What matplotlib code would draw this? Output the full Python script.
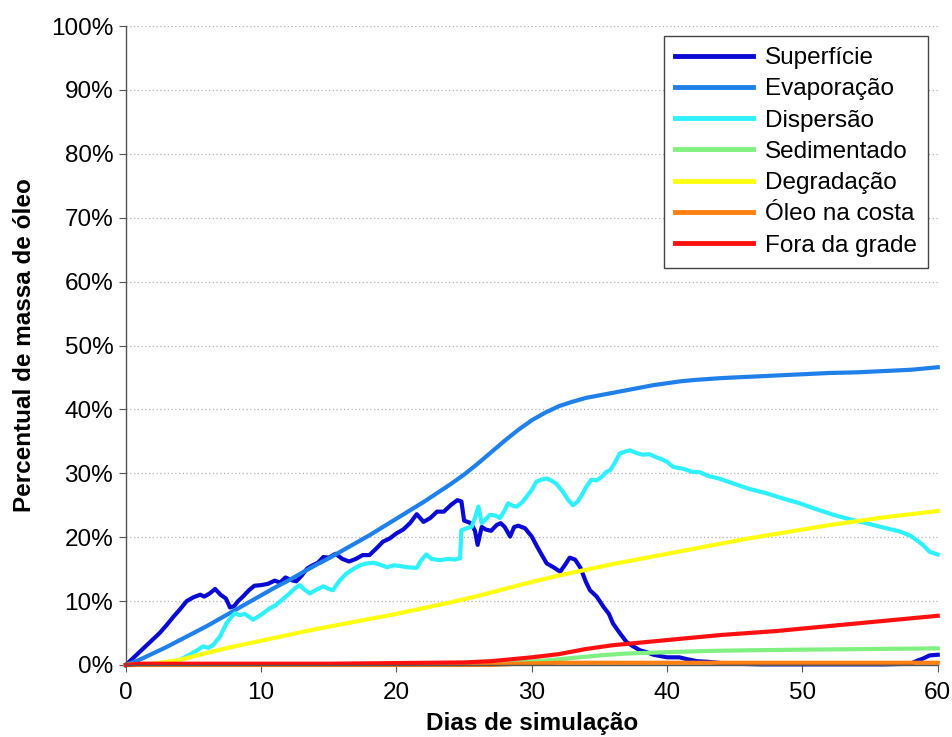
import matplotlib
matplotlib.use('Agg')
import matplotlib.pyplot as plt
import numpy as np

plt.rcParams['font.family'] = ['Liberation Sans', 'DejaVu Sans']

# series names and colours
labels = ['Superfície', 'Evaporação', 'Dispersão', 'Sedimentado',
          'Degradação', 'Óleo na costa', 'Fora da grade']
colors = ['#0a0ad2', '#1f80ea', '#2ef0ff', '#80f080',
          '#ffff10', '#ff8010', '#ff1010']

# Superfície (days, %)
sup_days = [0, 0.5, 1, 1.5, 2, 2.5, 3, 3.5, 4, 4.5, 5, 5.5, 5.8, 6.2, 6.6, 7.0, 7.4, 7.7,
            8.0, 8.3, 8.7, 9.1, 9.5, 10.0, 10.5, 11.0, 11.4, 11.8, 12.2, 12.6, 13.0, 13.4,
            13.8, 14.2, 14.6, 15.0, 15.5, 16.0, 16.5, 17.0, 17.5, 18.0, 18.5, 19.0, 19.5,
            20.0, 20.5, 21.0, 21.5, 22.0, 22.5, 23.0, 23.5, 24.0, 24.5, 24.8, 25.0, 25.5,
            25.8, 26.0, 26.3, 26.6, 27.0, 27.4, 27.7, 28.0, 28.4, 28.7, 29.0, 29.5, 30.0,
            30.4, 30.8, 31.1, 31.6, 32.1, 32.5, 32.8, 33.2, 33.6, 34.0, 34.3, 34.8, 35.3,
            35.7, 36.0, 36.5, 37.0, 37.5, 38.0, 38.5, 39.0, 39.5, 40.0, 40.9, 41.5, 42.2,
            43.0, 44.0, 45.0, 47, 50, 53, 56, 58, 58.4, 58.9, 59.4, 60.0]
sup_vals = [0, 1.0, 2.0, 3.0, 4.0, 5.0, 6.2, 7.5, 8.7, 10.0, 10.6, 11.0, 10.7, 11.2, 11.9,
            11.0, 10.4, 9.0, 9.2, 10.0, 10.8, 11.7, 12.4, 12.5, 12.7, 13.2, 12.9, 13.7,
            13.3, 13.1, 14.0, 15.1, 15.6, 16.0, 16.9, 16.8, 17.4, 16.6, 16.2, 16.6, 17.2,
            17.2, 18.2, 19.3, 19.8, 20.6, 21.2, 22.2, 23.6, 22.4, 23.0, 24.0, 24.0, 25.0,
            25.8, 25.6, 22.6, 22.2, 21.0, 18.8, 21.6, 21.2, 21.0, 21.9, 22.2, 21.6, 20.1,
            21.6, 21.8, 21.4, 20.1, 18.5, 17.0, 15.9, 15.3, 14.6, 15.8, 16.8, 16.5, 15.2,
            13.0, 11.7, 10.7, 9.1, 8.0, 6.5, 5.0, 3.6, 2.9, 2.3, 2.0, 1.6, 1.4, 1.2, 1.2,
            0.9, 0.6, 0.5, 0.3, 0.2, 0.1, 0.1, 0.1, 0.1, 0.2, 0.6, 1.0, 1.5, 1.6]

# Evaporação
evp_days = [0, 1, 2, 3, 4, 5, 6, 7, 8, 9, 10, 11, 12, 13, 14, 15, 16, 17, 18, 19, 20,
            21, 22, 23, 24, 25, 26, 27, 28, 29, 30, 31, 32, 33, 34, 35, 36, 37, 38, 39,
            40, 41, 42, 44, 46, 48, 50, 52, 54, 56, 58, 60]
evp_vals = [0, 0.8, 1.8, 2.8, 3.9, 5.0, 6.1, 7.3, 8.5, 9.7, 10.9, 12.1, 13.2, 14.4, 15.6,
            16.7, 17.9, 19.1, 20.3, 21.6, 22.9, 24.2, 25.5, 26.9, 28.3, 29.8, 31.5, 33.3,
            35.1, 36.8, 38.3, 39.5, 40.5, 41.2, 41.8, 42.2, 42.6, 43.0, 43.4, 43.8, 44.1,
            44.4, 44.6, 44.9, 45.1, 45.3, 45.5, 45.7, 45.8, 46.0, 46.2, 46.6]

# Dispersão
dsp_days = [0, 1, 2, 3, 4, 4.7, 5.2, 5.7, 6.1, 6.45, 6.7, 6.95, 7.2, 7.44, 7.8, 8.06, 8.4,
            8.8, 9.4, 9.8, 10.15, 10.6, 11.1, 11.6, 12.1, 12.5, 12.86, 13.2, 13.6, 14.1,
            14.6, 15.0, 15.3, 15.8, 16.3, 16.8, 17.3, 17.8, 18.3, 18.8, 19.3, 19.8, 20.25,
            20.8, 21.5, 21.8, 22.2, 22.6, 23.2, 23.8, 24.3, 24.7, 24.8, 25.2, 25.55, 25.8,
            26.05, 26.3, 26.6, 26.9, 27.3, 27.65, 28.0, 28.25, 28.6, 28.9, 29.3, 29.6, 30.0,
            30.35, 30.7, 31.1, 31.5, 31.8, 32.3, 32.7, 33.05, 33.4, 33.7, 34.0, 34.4, 34.8,
            35.2, 35.5, 35.8, 36.1, 36.5, 36.9, 37.25, 37.7, 38.2, 38.7, 39.2, 39.6, 40.0,
            40.45, 41.2, 41.9, 42.4, 43.0, 43.8, 44.9, 46.0, 47.3, 48.5, 49.8, 51.0, 52.3,
            53.5, 54.7, 56.0, 57.2, 58.0, 58.4, 58.9, 59.4, 60.0]
dsp_vals = [0, 0.1, 0.2, 0.4, 0.8, 1.6, 2.2, 2.9, 2.7, 3.1, 3.8, 4.4, 5.5, 6.5, 7.5, 8.1,
            7.8, 8.0, 7.1, 7.6, 8.1, 8.8, 9.4, 10.3, 11.2, 12.0, 12.5, 11.8, 11.2, 11.8,
            12.3, 11.9, 11.7, 13.2, 14.3, 15.0, 15.6, 15.9, 16.0, 15.7, 15.3, 15.6, 15.5,
            15.3, 15.2, 16.3, 17.3, 16.6, 16.4, 16.6, 16.5, 16.7, 21.1, 21.4, 21.6, 23.0,
            24.8, 22.2, 22.8, 23.5, 23.4, 23.0, 24.2, 25.3, 24.9, 24.8, 25.5, 26.3, 27.4,
            28.7, 29.0, 29.2, 28.8, 28.4, 27.1, 25.8, 25.0, 25.6, 26.6, 27.8, 29.0, 28.9,
            29.5, 30.2, 30.5, 31.5, 33.1, 33.4, 33.6, 33.2, 32.9, 33.0, 32.5, 32.2, 31.8,
            31.0, 30.7, 30.2, 30.2, 29.6, 29.2, 28.4, 27.6, 26.9, 26.1, 25.3, 24.4, 23.5,
            22.8, 22.2, 21.5, 20.9, 20.2, 19.6, 18.8, 17.7, 17.3]

# Sedimentado
sed_days = [0, 20, 27, 29, 31, 33, 35, 37, 40, 43, 46, 50, 55, 60]
sed_vals = [0, 0.1, 0.2, 0.4, 0.7, 1.1, 1.5, 1.8, 2.0, 2.2, 2.3, 2.4, 2.5, 2.6]

# Degradação
deg_days = [0, 2, 4, 6, 8, 10, 12, 14, 16, 18, 20, 22, 24, 26, 28, 30, 32, 34, 36, 38,
            40, 42, 44, 46, 48, 50, 52, 54, 56, 58, 60]
deg_vals = [0, 0.2, 0.8, 1.9, 2.9, 3.8, 4.7, 5.6, 6.4, 7.2, 8.0, 8.9, 9.8, 10.8, 11.9,
            13.0, 14.0, 14.9, 15.8, 16.6, 17.4, 18.2, 19.0, 19.8, 20.5, 21.2, 21.9, 22.5,
            23.1, 23.6, 24.1]

# Óleo na costa
cst_days = [0, 27, 29, 32, 60]
cst_vals = [0, 0.0, 0.2, 0.35, 0.35]

# Fora da grade
out_days = [0, 1, 5, 10, 15, 20, 25, 27, 28, 30, 32, 33, 34, 35, 36, 38, 40, 42, 44, 46,
            48, 50, 52, 54, 56, 58, 60]
out_vals = [0, 0.2, 0.2, 0.2, 0.2, 0.3, 0.4, 0.6, 0.8, 1.2, 1.7, 2.1, 2.5, 2.8, 3.1, 3.5,
            3.9, 4.3, 4.7, 5.0, 5.3, 5.7, 6.1, 6.5, 6.9, 7.3, 7.7]

series = [(sup_days, sup_vals), (evp_days, evp_vals), (dsp_days, dsp_vals),
          (sed_days, sed_vals), (deg_days, deg_vals), (cst_days, cst_vals),
          (out_days, out_vals)]

fig = plt.figure(figsize=(9.53, 7.37), dpi=100)
ax = fig.add_axes([0.132, 0.0977, 0.852, 0.867])

for (d, v), lab, c in zip(series, labels, colors):
    ax.plot(d, np.array(v) / 100.0, color=c, lw=3.0, label=lab, clip_on=False,
            solid_joinstyle='round')

ax.set_xlim(0, 60)
ax.set_ylim(0, 1.0)
ax.set_xticks(np.arange(0, 61, 10))
ax.set_yticks(np.arange(0, 1.01, 0.1))
ax.set_yticklabels(['%d%%' % p for p in range(0, 101, 10)])
ax.yaxis.grid(True, ls=(0, (1, 2)), color='#b0b0b0', lw=0.9)
ax.set_axisbelow(True)

for s in ['top', 'right']:
    ax.spines[s].set_visible(False)
for s in ['left', 'bottom']:
    ax.spines[s].set_color('#555555')
    ax.spines[s].set_linewidth(1.0)
ax.tick_params(axis='both', labelsize=17.5, length=5, color='#555555')
ax.tick_params(axis='x', pad=7)
ax.tick_params(axis='y', pad=4)

ax.set_xlabel('Dias de simulação', fontsize=17.5, fontweight='bold', labelpad=6)
ax.set_ylabel('Percentual de massa de óleo', fontsize=17.5, fontweight='bold', labelpad=11)

leg = ax.legend(loc='upper right', bbox_to_anchor=(0.988, 0.984), borderaxespad=0,
                fontsize=17.5, handlelength=3.2, handletextpad=0.5, labelspacing=0.38,
                borderpad=0.45, fancybox=False, framealpha=1, edgecolor='#444444')
leg.get_frame().set_linewidth(1.0)
for ln in leg.get_lines():
    ln.set_linewidth(3.5)

fig.savefig('out.png', dpi=100)
